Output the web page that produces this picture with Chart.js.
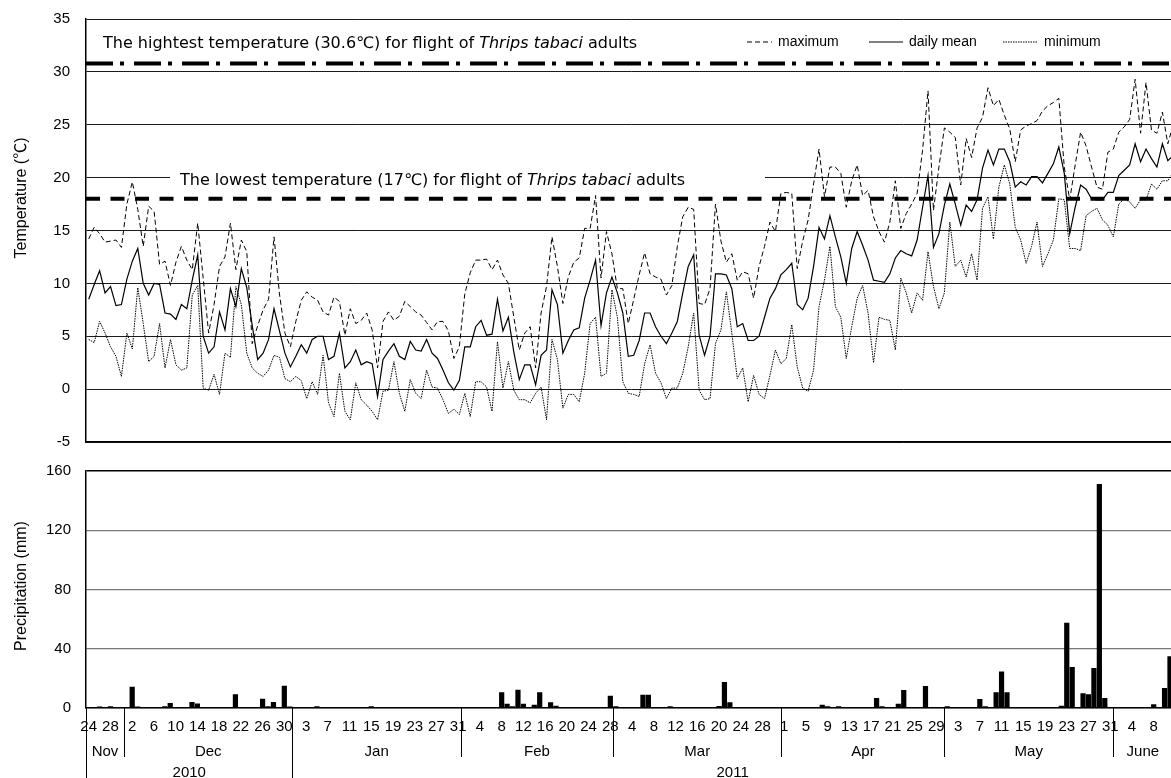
<!DOCTYPE html>
<html>
<head>
<meta charset="utf-8">
<script src="https://cdn.jsdelivr.net/npm/chart.js@4.4.0/dist/chart.umd.min.js"></script>
<style>
  html, body { margin: 0; padding: 0; background: #fff; overflow: hidden; width: 1171px; height: 778px; }
  #wrap { position: relative; width: 1180px; height: 778px; }
  #tempChart { position: absolute; left: 0; top: 0; }
  #rainChart { position: absolute; left: 0; top: 450px; }
</style>
</head>
<body>
<div id="wrap">
  <canvas id="tempChart" width="1180" height="452"></canvas>
  <canvas id="rainChart" width="1180" height="328"></canvas>
</div>
<script>
// Daily weather, 24 Nov 2010 - June 2011
const FONT = "'Liberation Sans', Arial, 'Noto Sans CJK JP', sans-serif";
const NOTE_FONT = "'DejaVu Sans', 'Noto Sans CJK JP', sans-serif";

// categories
const monthNames = ['Nov', 'Dec', 'Jan', 'Feb', 'Mar', 'Apr', 'May', 'June'];
const monthDays = [7, 31, 31, 28, 31, 30, 31, 11]; // days shown per month
const firstDay = 24;
const yearNames = ['2010', '2011'];
const yearMonthCount = [2, 6];

// flight threshold lines (as drawn)
const highestFlight = 30.8;
const lowestFlight = 18;

// temperature (deg C)
const tMax = [
  14.2, 15.3, 14.7, 13.9, 14.0, 14.1, 13.4, 17.5, 19.6, 17.0,
  13.5, 17.3, 16.8, 11.8, 12.1, 9.8, 12.0, 13.5, 12.2, 11.3,
  15.7, 10.5, 5.3, 8.0, 11.6, 12.5, 15.7, 11.3, 14.1, 13.0,
  4.3, 6.0, 7.5, 8.5, 14.4, 9.0, 5.3, 4.0, 6.4, 8.4,
  9.2, 8.7, 8.4, 7.3, 7.0, 8.7, 8.3, 5.1, 7.6, 6.2,
  6.5, 7.2, 5.6, 2.0, 6.4, 7.3, 6.5, 6.9, 8.3, 7.8,
  7.3, 7.0, 6.3, 5.6, 6.4, 6.4, 5.5, 2.9, 4.0, 9.0,
  11.0, 12.2, 12.2, 12.3, 11.3, 12.2, 10.8, 10.0, 6.8, 3.7,
  5.3, 5.9, 2.0, 7.2, 9.7, 14.4, 11.6, 8.1, 10.6, 12.0,
  12.4, 15.2, 15.2, 18.3, 10.5, 14.9, 12.8, 9.5, 9.5, 6.2,
  8.5, 10.8, 12.9, 10.9, 10.6, 10.4, 8.9, 9.8, 13.5, 16.3,
  17.2, 17.0, 8.1, 8.0, 9.5, 17.5, 14.0, 12.0, 12.8, 10.3,
  11.1, 10.9, 8.6, 11.6, 13.5, 15.8, 14.9, 18.5, 18.6, 18.5,
  11.4, 14.0, 16.0, 19.4, 22.7, 18.2, 21.0, 21.0, 20.4, 17.2,
  19.7, 21.2, 18.3, 18.8, 16.3, 14.9, 13.9, 15.8, 19.7, 15.2,
  16.6, 17.5, 18.5, 22.6, 28.2, 16.9, 21.0, 24.7, 24.3, 23.8,
  19.3, 23.7, 21.9, 24.7, 25.7, 28.5, 26.8, 27.4, 25.9, 24.6,
  21.5, 24.5, 24.9, 25.1, 25.4, 26.3, 26.8, 27.1, 27.5, 21.0,
  17.9, 21.2, 24.3, 23.0, 21.0, 19.1, 18.9, 22.4, 22.7, 24.3,
  24.8, 25.5, 29.3, 24.2, 29.0, 24.5, 24.2, 26.2, 23.2, 25.0
];
const tMean = [
  8.5, 9.9, 11.2, 9.1, 9.7, 7.9, 8.0, 10.4, 12.1, 13.3,
  10.0, 8.9, 10.0, 9.9, 7.2, 7.1, 6.6, 8.0, 7.6, 10.3,
  12.7, 5.0, 3.4, 4.0, 7.3, 5.6, 9.5, 7.8, 11.4, 9.6,
  6.0, 2.8, 3.4, 4.7, 7.6, 5.5, 3.4, 2.1, 3.1, 4.2,
  3.4, 4.7, 5.0, 5.0, 2.8, 3.1, 5.3, 2.0, 2.6, 3.7,
  2.3, 2.6, 2.4, -0.7, 2.8, 3.6, 4.3, 3.1, 2.8, 4.5,
  3.7, 3.6, 4.7, 3.4, 2.9, 1.8, 0.6, -0.1, 0.8, 4.0,
  4.0, 5.9, 6.5, 5.1, 5.2, 8.5, 5.5, 6.8, 3.5, 0.9,
  2.3, 2.3, 0.4, 3.2, 3.7, 9.4, 8.0, 3.4, 4.6, 5.6,
  5.8, 8.6, 10.3, 12.2, 6.0, 9.1, 10.6, 9.1, 7.2, 3.1,
  3.2, 4.6, 7.2, 7.2, 5.9, 5.0, 4.3, 5.3, 6.4, 9.1,
  11.6, 12.7, 5.1, 3.2, 5.0, 10.9, 10.9, 10.8, 9.5, 5.9,
  6.2, 4.6, 4.6, 5.0, 6.8, 8.6, 9.5, 10.8, 11.3, 11.9,
  8.0, 7.5, 8.6, 11.6, 15.3, 14.2, 16.4, 14.4, 12.5, 10.0,
  13.3, 14.9, 13.6, 12.2, 10.3, 10.2, 10.1, 10.9, 12.4, 13.1,
  12.8, 12.6, 14.1, 17.2, 20.2, 13.4, 14.7, 17.4, 19.4, 17.5,
  15.5, 17.4, 16.8, 17.9, 20.9, 22.6, 21.2, 22.7, 22.7, 21.5,
  19.1, 19.6, 19.3, 20.1, 20.1, 19.5, 20.4, 21.3, 22.9, 20.4,
  14.7, 17.2, 19.3, 18.9, 18.0, 17.9, 17.9, 18.6, 18.6, 20.2,
  20.7, 21.2, 23.2, 21.5, 22.7, 21.8, 21.0, 23.2, 21.6, 22.1
];
const tMin = [
  4.7, 4.4, 6.4, 5.3, 4.0, 3.1, 1.2, 5.3, 3.8, 9.6,
  6.2, 2.6, 3.1, 6.2, 2.0, 4.7, 2.3, 1.8, 2.0, 8.9,
  9.8, 0.1, -0.1, 1.4, -0.5, 3.4, 3.0, 9.7, 8.0, 3.4,
  2.0, 1.5, 1.2, 1.8, 3.2, 3.0, 1.0, 0.7, 1.2, 0.8,
  -0.9, 0.7, -0.5, 3.2, -1.3, -2.6, 1.5, -2.1, -2.9, 0.6,
  -1.0, -1.5, -2.1, -2.9, -0.2, -0.1, 2.6, -0.4, -2.1, 0.9,
  -0.4, -0.9, 1.8, 0.2, 0.1, -1.0, -2.3, -1.9, -2.4, -0.4,
  -2.6, 0.7, 0.7, 0.2, -2.1, 4.5, 0.1, 2.6, -0.1, -1.0,
  -1.0, -1.3, -0.4, 0.2, -2.9, 4.7, 2.8, -1.8, -0.5, -0.5,
  -1.2, 1.5, 6.2, 6.8, 1.2, 1.5, 9.4, 6.8, 0.7, -0.4,
  -0.5, -0.7, 2.4, 4.2, 1.5, 0.6, -0.9, 0.1, 0.1, 1.5,
  4.0, 7.2, -0.1, -1.0, -0.9, 4.3, 5.6, 9.2, 5.3, 1.0,
  2.0, -1.2, 1.3, -0.5, -0.9, 1.3, 3.7, 2.4, 2.9, 6.1,
  2.1, 0.1, -0.2, 1.8, 7.8, 10.3, 13.5, 7.8, 6.8, 2.9,
  5.9, 8.6, 9.8, 7.2, 2.5, 6.8, 6.6, 6.5, 3.7, 10.5,
  9.1, 7.2, 9.1, 8.4, 13.0, 9.7, 7.6, 9.1, 15.8, 11.6,
  12.2, 10.6, 12.8, 10.3, 17.1, 18.2, 14.2, 19.1, 21.2, 19.4,
  15.3, 14.1, 11.9, 13.5, 15.8, 11.6, 12.8, 14.1, 18.0, 17.9,
  13.3, 13.3, 13.1, 16.4, 16.8, 17.1, 16.0, 15.5, 14.4, 17.5,
  18.0, 17.7, 17.1, 17.9, 17.9, 19.4, 18.9, 19.7, 19.7, 20.5
];

// precipitation (mm)
const rain = [
  0, 0, 1.0, 0, 1.1, 0, 0, 0, 14.4, 1.0,
  0, 0, 0, 0, 1.1, 3.4, 0, 0, 0, 4.0,
  3.0, 0, 0, 0, 0, 0, 0, 9.2, 0, 0,
  0, 0, 6.3, 1.2, 4.0, 0, 15.1, 1.0, 0, 0,
  0, 0, 1.1, 0, 0, 0, 0, 0, 0, 0,
  0, 0, 1.1, 0, 0, 0, 0, 0, 0, 0,
  0, 0, 0, 0, 0, 0, 0, 0, 0, 0,
  0, 0, 0, 0, 0, 0, 10.6, 2.9, 1.1, 12.4,
  2.9, 0, 2.2, 10.6, 0, 3.8, 1.6, 0, 0, 0,
  0, 0, 0, 0, 0, 0, 8.3, 1.2, 0, 0,
  0, 0, 9.0, 9.0, 0, 0, 0, 1.2, 0, 0,
  0, 0, 0, 0, 0, 0, 1.3, 17.5, 3.8, 0,
  0, 0, 0, 0, 0, 0, 0, 0, 0, 0,
  0, 0, 0, 0, 0, 2.2, 1.2, 0, 1.2, 0,
  0, 0, 0, 0, 0, 6.7, 1.2, 0, 0, 2.9,
  12.1, 0, 0, 0, 14.8, 0, 0, 0, 1.2, 0,
  0, 0, 0, 0, 6.1, 1.2, 0, 10.6, 24.7, 10.6,
  0, 0, 0, 0, 0, 0, 0, 0, 0, 1.6,
  57.5, 27.6, 0, 9.9, 9.2, 27.0, 151.2, 6.7, 0, 0,
  0, 0, 0, 0, 0, 0, 2.5, 0, 13.5, 35
];

// day-of-month labels
let dayLabels = [];
monthDays.forEach((n, m) => {
  let start = m === 0 ? firstDay : 1;
  for (let d = 0; d < n; d++) dayLabels.push(String(start + d));
});

// write a label with an italic middle part
const drawRich = (ctx, parts, x, y, size) => {
  ctx.textAlign = 'left';
  ctx.textBaseline = 'middle';
  parts.forEach((p, i) => {
    ctx.font = (i % 2 === 1 ? 'italic ' : '') + size + 'px ' + NOTE_FONT;
    ctx.fillText(p, x, y);
    x += ctx.measureText(p).width;
  });
  return x;
};

const drawYTitle = (ctx, text, x, y) => {
  ctx.save();
  ctx.translate(x, y);
  ctx.rotate(-Math.PI / 2);
  ctx.font = '16px ' + FONT;
  ctx.fillStyle = '#000';
  ctx.textAlign = 'center';
  ctx.textBaseline = 'middle';
  ctx.fillText(text, 0, 0);
  ctx.restore();
};

const hLine = (ctx, a, yy, dash, width) => {
  ctx.lineWidth = width;
  ctx.setLineDash(dash);
  ctx.beginPath();
  ctx.moveTo(a.left, yy);
  ctx.lineTo(a.right, yy);
  ctx.stroke();
};

const tempDecor = {
  id: 'tempDecor',
  beforeDatasetsDraw(chart) {
    const { ctx, chartArea: a, scales: { y } } = chart;
    ctx.save();
    ctx.fillStyle = '#000';
    drawRich(ctx, ['The hightest temperature (30.6\u2103) for flight of ', 'Thrips tabaci', ' adults'], a.left + 17, 44, 16);

    // white box over the 20 grid line
    const y20 = y.getPixelForValue(20);
    ctx.fillStyle = '#fff';
    ctx.fillRect(a.left + 84, y20 - 4, 595, 8);
    ctx.fillStyle = '#000';
    drawRich(ctx, ['The lowest temperature (17\u2103) for flight of ', 'Thrips tabaci', ' adults'], a.left + 94, y20 + 3, 16);

    // legend
    ctx.strokeStyle = '#000';
    const ly = 42;
    const items = [
      { x: 747, w: 25, dash: [5, 3], text: 'maximum' },
      { x: 869, w: 34, dash: [], text: 'daily mean' },
      { x: 1003, w: 35, dash: [1.5, 1], text: 'minimum' }
    ];
    items.forEach(it => {
      ctx.lineWidth = 1;
      ctx.setLineDash(it.dash);
      ctx.beginPath();
      ctx.moveTo(it.x, ly);
      ctx.lineTo(it.x + it.w, ly);
      ctx.stroke();
      ctx.setLineDash([]);
      ctx.font = '14px ' + FONT;
      ctx.textAlign = 'left';
      ctx.textBaseline = 'middle';
      ctx.fillText(it.text, it.x + it.w + 6, ly);
    });
    ctx.restore();

    drawYTitle(ctx, 'Temperature (\u2103)', 22, 198);
  },
  afterDatasetsDraw(chart) {
    const { ctx, chartArea: a, scales: { y } } = chart;
    ctx.save();
    ctx.strokeStyle = '#000';
    hLine(ctx, a, y.getPixelForValue(highestFlight), [27, 7, 4, 10], 4);
    hLine(ctx, a, y.getPixelForValue(lowestFlight), [14, 10.5], 4);
    ctx.restore();
  }
};

const rainDecor = {
  id: 'rainDecor',
  afterDraw(chart) {
    const { ctx, chartArea: a, scales: { x } } = chart;
    const w = x.getPixelForValue(1) - x.getPixelForValue(0);
    const edge = i => x.getPixelForValue(i) - w / 2;
    const H = chart.height;

    let edges = [0];
    monthDays.forEach(n => edges.push(edges[edges.length - 1] + n));
    let yearEdges = [0];
    yearMonthCount.forEach(n => yearEdges.push(yearEdges[yearEdges.length - 1] + n));

    ctx.save();
    ctx.strokeStyle = '#000';
    ctx.lineWidth = 1;
    ctx.fillStyle = '#000';
    ctx.font = '15px ' + FONT;
    ctx.textAlign = 'center';
    ctx.textBaseline = 'middle';

    monthNames.forEach((name, m) => {
      const x0 = edge(edges[m]);
      const x1 = Math.min(edge(edges[m + 1]), a.right);
      const isYear = yearEdges.includes(m);
      const px = Math.round(x0) + 0.5;
      ctx.beginPath();
      ctx.moveTo(px, a.bottom);
      ctx.lineTo(px, isYear ? H : a.bottom + 49);
      ctx.stroke();
      ctx.fillText(name, (x0 + x1) / 2, a.bottom + 44);
    });

    yearNames.forEach((name, k) => {
      const x0 = edge(edges[yearEdges[k]]);
      const x1 = Math.min(edge(edges[yearEdges[k + 1]]), a.right);
      ctx.fillText(name, (x0 + x1) / 2, a.bottom + 65);
    });
    ctx.restore();

    drawYTitle(ctx, 'Precipitation (mm)', 22, 136);
  }
};

const tickFont = { family: FONT, size: 15 };

var tempChart = new Chart(document.getElementById('tempChart').getContext('2d'), {
  type: 'line',
  data: {
    labels: dayLabels,
    datasets: [
      { label: 'maximum', data: tMax, borderColor: '#000', borderWidth: 1, borderDash: [5, 3], pointRadius: 0, tension: 0 },
      { label: 'daily mean', data: tMean, borderColor: '#000', borderWidth: 1.2, pointRadius: 0, tension: 0 },
      { label: 'minimum', data: tMin, borderColor: '#000', borderWidth: 1, borderDash: [1.5, 1], pointRadius: 0, tension: 0 }
    ]
  },
  options: {
    responsive: false,
    animation: false,
    devicePixelRatio: 1,
    layout: { padding: { top: 19, bottom: 10, left: 0, right: 4 } },
    plugins: { legend: { display: false }, tooltip: { enabled: false } },
    scales: {
      x: {
        offset: true,
        grid: { display: false, drawTicks: false },
        border: { display: true, color: '#000', width: 1.5 },
        ticks: { display: false },
        afterFit(s) { s.height = 0; }
      },
      y: {
        min: -5,
        max: 35,
        ticks: { stepSize: 5, color: '#000', font: tickFont, padding: 0 },
        grid: { color: '#1a1a1a', lineWidth: 1, drawTicks: true, tickLength: 16, tickColor: 'rgba(0,0,0,0)' },
        border: { color: '#000', width: 1.5 },
        afterFit(s) { s.width = 86; }
      }
    }
  },
  plugins: [tempDecor]
});

var rainChart = new Chart(document.getElementById('rainChart').getContext('2d'), {
  type: 'bar',
  data: {
    labels: dayLabels,
    datasets: [{ label: 'Precipitation', data: rain, backgroundColor: '#000', barPercentage: 1, categoryPercentage: 0.96 }]
  },
  options: {
    responsive: false,
    animation: false,
    devicePixelRatio: 1,
    layout: { padding: { top: 21, bottom: 0, left: 0, right: 4 } },
    plugins: { legend: { display: false }, tooltip: { enabled: false } },
    scales: {
      x: {
        grid: { display: false, drawTicks: false },
        border: { color: '#000', width: 1.5 },
        ticks: {
          autoSkip: false, maxRotation: 0, minRotation: 0, padding: 10,
          color: '#000', font: tickFont,
          callback: (v, i) => (i % 4 === 0 ? dayLabels[i] : '')
        },
        afterFit(s) { s.height = 70; }
      },
      y: {
        min: 0,
        max: 160,
        ticks: { stepSize: 40, color: '#000', font: tickFont, padding: 0 },
        grid: {
          color: ctx => (ctx.tick && ctx.tick.value === 160 ? '#000' : '#777'),
          lineWidth: ctx => (ctx.tick && ctx.tick.value === 160 ? 1.5 : 1.3),
          drawTicks: true, tickLength: 15, tickColor: 'rgba(0,0,0,0)'
        },
        border: { color: '#000', width: 1.5 },
        afterFit(s) { s.width = 86; }
      }
    }
  },
  plugins: [rainDecor]
});
</script>
</body>
</html>
